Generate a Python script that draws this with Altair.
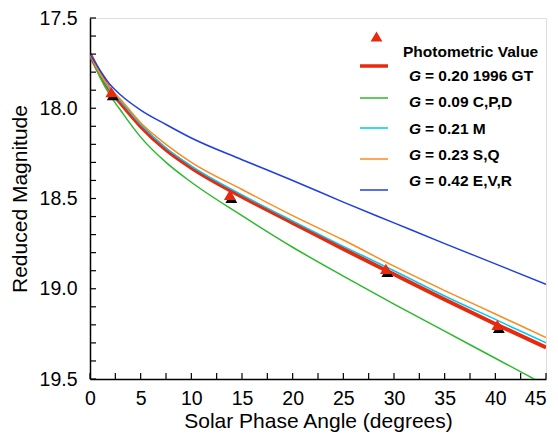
import altair as alt
import pandas as pd

# ---- data ----
angle = [0, 1, 2, 3, 5, 7.5, 10, 15, 20, 25, 30, 35, 40, 45]
g020 = [17.70, 17.81, 17.90, 17.97, 18.10, 18.23, 18.33, 18.49, 18.635, 18.78, 18.92, 19.06, 19.195, 19.325]
g009 = [17.70, 17.83, 17.93, 18.01, 18.16, 18.30, 18.41, 18.595, 18.77, 18.93, 19.085, 19.235, 19.385, 19.535]
g021 = [17.70, 17.81, 17.90, 17.96, 18.09, 18.22, 18.32, 18.48, 18.625, 18.765, 18.90, 19.04, 19.17, 19.30]
g023 = [17.70, 17.81, 17.89, 17.95, 18.08, 18.20, 18.30, 18.45, 18.595, 18.73, 18.875, 19.01, 19.14, 19.27]
g042 = [17.70, 17.79, 17.87, 17.925, 18.01, 18.09, 18.165, 18.285, 18.40, 18.52, 18.635, 18.75, 18.862, 18.975]

phot_x = [2.1, 13.8, 29.2, 40.2]
phot_y = [17.91, 18.48, 18.89, 19.20]

series_names = ["G = 0.20 1996 GT", "G = 0.09 C,P,D", "G = 0.21 M", "G = 0.23 S,Q", "G = 0.42 E,V,R"]
legend_rest = ["= 0.20 1996 GT", "= 0.09 C,P,D", "= 0.21 M", "= 0.23 S,Q", "= 0.42 E,V,R"]
series_colors = ["#e8290b", "#2db92d", "#00c8f8", "#ff8a1c", "#1f3fe0"]

x_ticks = [i * 2.5 for i in range(19)]
y_ticks = [round(17.5 + i * 0.1, 1) for i in range(21)]
x_labels = [0, 5, 10, 15, 20, 25, 30, 35, 40, 45]
y_labels = [17.5, 18.0, 18.5, 19.0, 19.5]

W, H = 456, 361
FONT = "Liberation Sans"

rows = []
for name, vals in zip(series_names, [g020, g009, g021, g023, g042]):
    for a, v in zip(angle, vals):
        rows.append({"angle": a, "mag": v, "series": name})
curves = pd.DataFrame(rows)
phot = pd.DataFrame({"angle": phot_x, "mag": phot_y})

xs = alt.Scale(domain=[0, 45], nice=False, zero=False)
ys = alt.Scale(domain=[17.5, 19.5], nice=False, zero=False, reverse=True)

xax = alt.Axis(values=x_labels, ticks=False, tickSize=0, grid=False, labelFontSize=19.5,
               titleFontSize=21, labelPadding=10, titlePadding=3, domainColor="black",
               domainWidth=1.5, labelColor="black", titleColor="black", labelFont=FONT,
               titleFont=FONT, titleFontWeight="normal", format="d", labelFlush=False,
               labelAlign=alt.ConditionalAxisLabelAlign(
                   condition={"test": "datum.value >= 45", "value": "right"}, value="center"))
yax = alt.Axis(values=y_labels, ticks=False, tickSize=0, grid=False, labelFontSize=19.5,
               titleFontSize=21, labelPadding=13, titlePadding=9, domainColor="black",
               domainWidth=1.5, labelColor="black", titleColor="black", labelFont=FONT,
               titleFont=FONT, titleFontWeight="normal", format=".1f", labelFlush=False)

cscale = alt.Scale(domain=series_names, range=series_colors)

red = alt.Chart(curves[curves.series == series_names[0]]).mark_line(
    strokeWidth=4, clip=True, interpolate="monotone", color=series_colors[0]
).encode(
    x=alt.X("angle:Q", scale=xs, axis=xax, title="Solar Phase Angle (degrees)"),
    y=alt.Y("mag:Q", scale=ys, axis=yax, title="Reduced Magnitude"),
)

thin = alt.Chart(curves[curves.series != series_names[0]]).mark_line(
    strokeWidth=1.5, clip=True, interpolate="monotone"
).encode(
    x="angle:Q", y="mag:Q",
    color=alt.Color("series:N", scale=cscale, legend=None),
    detail="series:N",
)

shadow = alt.Chart(phot).mark_point(
    shape="triangle-up", filled=True, color="black", opacity=1, size=140, xOffset=1.5, yOffset=3
).encode(x="angle:Q", y="mag:Q")
tri = alt.Chart(phot).mark_point(
    shape="triangle-up", filled=True, color=series_colors[0], opacity=1, size=140
).encode(x="angle:Q", y="mag:Q")

xt = alt.Chart(pd.DataFrame({"t": x_ticks})).mark_rule(color="black", strokeWidth=1.2).encode(
    x="t:Q", y=alt.value(H), y2=alt.value(H - 6))
yt = alt.Chart(pd.DataFrame({"t": y_ticks})).mark_rule(color="black", strokeWidth=1.2).encode(
    y="t:Q", x=alt.value(0), x2=alt.value(6))

# ---- legend (inside plot, top-right) ----
line_y = [48, 80, 110, 141, 172]
text_y = [58, 84, 111, 137, 163]
leg_line_layers = []
for i, name in enumerate(series_names):
    leg_line_layers.append(
        alt.Chart(pd.DataFrame({"s": [name]})).mark_rule(
            color=series_colors[i], strokeWidth=3.5 if i == 0 else 1.5
        ).encode(x=alt.value(270), x2=alt.value(298), y=alt.value(line_y[i]))
    )
leg_tri = alt.Chart(pd.DataFrame({"s": ["Photometric Value"]})).mark_point(
    shape="triangle-up", filled=True, color=series_colors[0], opacity=1, size=140
).encode(x=alt.value(286.5), y=alt.value(18.5))
leg_phot = alt.Chart(pd.DataFrame({"s": ["Photometric Value"]})).mark_text(
    align="left", baseline="middle", font=FONT, fontSize=15.5, fontWeight="bold", color="black"
).encode(x=alt.value(313), y=alt.value(34), text="s:N")
leg_g = alt.Chart(pd.DataFrame({"s": ["G"] * 5, "y": text_y})).mark_text(
    align="left", baseline="middle", font=FONT, fontSize=15.5, fontWeight="bold",
    fontStyle="italic", color="black"
).encode(x=alt.value(319), y=alt.Y("y:Q", scale=None), text="s:N")
leg_rest = alt.Chart(pd.DataFrame({"s": legend_rest, "y": text_y})).mark_text(
    align="left", baseline="middle", font=FONT, fontSize=15.5, fontWeight="bold", color="black"
).encode(x=alt.value(335), y=alt.Y("y:Q", scale=None), text="s:N")

chart = alt.layer(
    red, thin, shadow, tri, xt, yt, *leg_line_layers, leg_tri, leg_phot, leg_g, leg_rest
).properties(
    width=W, height=H,
    autosize=alt.AutoSizeParams(type="none"),
    padding={"left": 82, "top": 10, "right": 4, "bottom": 54},
).configure_view(stroke="black", strokeWidth=1.5).configure(background="white")

chart.save("out.html", embed_options={"renderer": "svg", "actions": False})
